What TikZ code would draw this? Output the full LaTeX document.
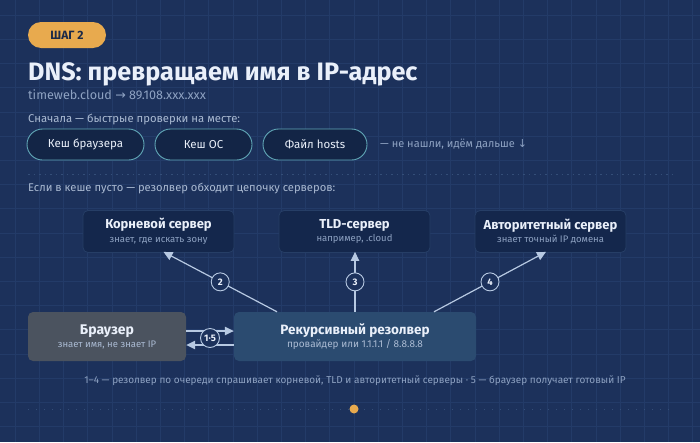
\documentclass[tikz,border=0pt]{standalone}
\usepackage{fontspec}
\setmainfont{Fira Sans}
\newfontfamily\symfont{DejaVu Sans}
\usetikzlibrary{arrows.meta,calc}

\definecolor{bgnavy}{RGB}{28,49,91}
\definecolor{gridln}{RGB}{35,59,104}
\definecolor{badge}{RGB}{232,170,78}
\definecolor{badgetxt}{RGB}{28,42,72}
\definecolor{titletxt}{RGB}{234,240,250}
\definecolor{subtxt}{RGB}{142,162,194}
\definecolor{softtxt}{RGB}{170,186,210}
\definecolor{pillfill}{RGB}{19,37,70}
\definecolor{pillline}{RGB}{96,166,182}
\definecolor{srvfill}{RGB}{20,39,76}
\definecolor{srvline}{RGB}{38,62,102}
\definecolor{resfill}{RGB}{43,75,112}
\definecolor{brwfill}{RGB}{75,83,95}
\definecolor{arrowc}{RGB}{183,201,226}
\definecolor{dotln}{RGB}{52,78,120}

\begin{document}
\begin{tikzpicture}[x=1pt, y=-1pt, >={Triangle[length=9pt,width=8.5pt]},
  pillbox/.style={draw=pillline, fill=pillfill, line width=0.9pt,
    rounded corners=15.5pt, minimum height=31pt, inner sep=0pt,
    text=titletxt, font=\fontsize{11.5}{14}\selectfont},
  srvbox/.style={draw=srvline, fill=srvfill, line width=0.8pt,
    rounded corners=5pt, minimum width=151pt, minimum height=42pt,
    inner sep=0pt, align=center, text=titletxt},
  stepdot/.style={circle, draw=arrowc, fill=bgnavy, line width=0.9pt,
    minimum size=18pt, inner sep=0pt, text=titletxt,
    font=\bfseries\fontsize{9.5}{10}\selectfont},
  link/.style={->, draw=arrowc, line width=1.2pt}]

  % --- фон и сетка ---
  \fill[bgnavy] (0,0) rectangle (700,442);
  \useasboundingbox (0,0) rectangle (700,442);
  \foreach \g in {0,...,28}
    \draw[gridln, line width=0.6pt] (15+24.2*\g,0) -- (15+24.2*\g,442);
  \foreach \g in {0,...,17}
    \draw[gridln, line width=0.6pt] (0,15+24.2*\g) -- (700,15+24.2*\g);

  % --- заголовок ---
  \node[fill=badge, rounded corners=13pt, minimum width=78pt, minimum height=26pt,
    inner sep=0pt, text=badgetxt, font=\bfseries\fontsize{12}{14}\selectfont]
    (badge) at (67,35) {ШАГ 2};
  \node[anchor=base west, inner sep=0pt, text=titletxt,
    font=\bfseries\fontsize{25.2}{28}\selectfont] (title) at (28,80)
    {DNS: превращаем имя в IP-адрес};
  \node[anchor=base west, inner sep=0pt, text=subtxt,
    font=\fontsize{12.6}{14}\selectfont] (subtitle) at (28,99)
    {timeweb.cloud {\symfont →} 89.108.xxx.xxx};

  % --- локальные проверки ---
  \node[anchor=base west, inner sep=0pt, text=softtxt,
    font=\fontsize{11.3}{14}\selectfont] (first) at (28,122)
    {Сначала — быстрые проверки на месте:};
  \node[pillbox, minimum width=117pt] (brcache) at (85.5,144.5) {Кеш браузера};
  \node[pillbox, minimum width=97pt] (oscache) at (203.5,144.5) {Кеш ОС};
  \node[pillbox, minimum width=104pt] (hosts) at (315,144.5) {Файл hosts};
  \node[anchor=west, inner sep=0pt, text=subtxt,
    font=\fontsize{11}{14}\selectfont] (nohit) at (380,144.5)
    {— не нашли, идём дальше {\symfont ↓}};

  % разделитель
  \draw[dotln, line width=0.8pt, dash pattern=on 1.5pt off 4pt] (28,174) -- (672,174);

  \node[anchor=base west, inner sep=0pt, text=softtxt,
    font=\fontsize{11.2}{14}\selectfont] (chain) at (28,191)
    {Если в кеше пусто — резолвер обходит цепочку серверов:};

  % --- серверы ---
  \node[srvbox] (root) at (158.5,231.5)
    {{\bfseries\fontsize{13}{15}\selectfont Корневой сервер}\\[1.5pt]
     {\color{subtxt}\fontsize{9.5}{11}\selectfont знает, где искать зону}};
  \node[srvbox] (tld) at (354.5,231.5)
    {{\bfseries\fontsize{13}{15}\selectfont TLD-сервер}\\[1.5pt]
     {\color{subtxt}\fontsize{9.5}{11}\selectfont например, .cloud}};
  \node[srvbox] (auth) at (550.5,231.5)
    {{\bfseries\fontsize{13}{15}\selectfont Авторитетный сервер}\\[1.5pt]
     {\color{subtxt}\fontsize{9.5}{11}\selectfont знает точный IP домена}};

  % --- браузер и резолвер ---
  \node[fill=brwfill, rounded corners=5pt, minimum width=158pt, minimum height=49pt,
    inner sep=0pt, align=center, text=titletxt] (browser) at (107,336.5)
    {{\bfseries\fontsize{14}{16}\selectfont Браузер}\\[1pt]
     {\color{softtxt}\fontsize{9.5}{11}\selectfont знает имя, не знает IP}};
  \node[fill=resfill, rounded corners=5pt, minimum width=242pt, minimum height=49pt,
    inner sep=0pt, align=center, text=titletxt] (resolver) at (355,336.5)
    {{\bfseries\fontsize{13.5}{16}\selectfont Рекурсивный резолвер}\\[1pt]
     {\color{softtxt}\fontsize{10}{12}\selectfont провайдер или 1.1.1.1 / 8.8.8.8}};

  % --- запросы резолвера 2, 3, 4 ---
  \coordinate (q2) at ($(resolver.north)+(-78,0)$);
  \coordinate (q4) at ($(resolver.north)+(79,0)$);
  \draw[link] (q2) -- ($(root.south)+(5,-1)$)
    node[stepdot, pos=0.5] (n2) {2};
  \draw[link] (resolver.north) -- ($(tld.south)+(0.5,-1)$)
    node[stepdot, pos=0.5] (n3) {3};
  \draw[link] (q4) -- ($(auth.south)+(-4.5,-1)$)
    node[stepdot, pos=0.5] (n4) {4};

  % --- браузер <-> резолвер (1 и 5) ---
  \draw[link] ([yshift=5.5pt]browser.east) -- ([yshift=5.5pt]resolver.west);
  \draw[link] ([yshift=-8.5pt]resolver.west) -- ([yshift=-8.5pt]browser.east);
  \node[stepdot, minimum size=19pt] (n15) at ($(browser.east)!0.5!(resolver.west)+(0,1.5)$) {1·5};

  % --- подпись снизу ---
  \node[text=subtxt, inner sep=0pt, font=\fontsize{10}{12}\selectfont] (legend) at (355,381)
    {1–4 — резолвер по очереди спрашивает корневой, TLD и авторитетный серверы · 5 — браузер получает готовый IP};

  % пагинация
  \draw[dotln, line width=1pt, dash pattern=on 1pt off 7pt] (28,409) -- (672,409);
  \fill[badge] (354,409) circle (4.5);

\end{tikzpicture}
\end{document}
